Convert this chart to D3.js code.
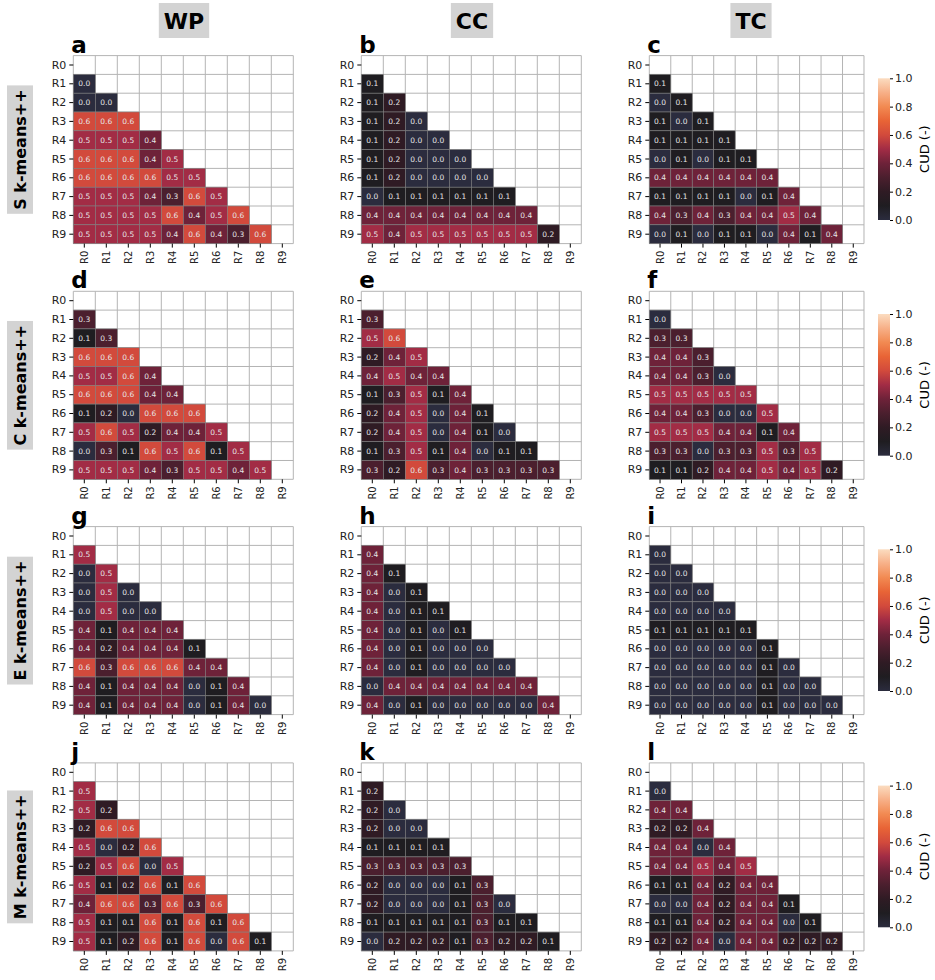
<!DOCTYPE html>
<html>
<head>
<meta charset="utf-8">
<script src="https://cdn.jsdelivr.net/npm/d3@7"></script>
<style>
  body { margin: 0; background: #fff; }
  svg { font-family: "DejaVu Sans", sans-serif; }
</style>
</head>
<body>
<div class="chart-area"></div>
<script>
// column (metric) and row (algorithm) names, tick labels
const colNames = ["WP", "CC", "TC"];
const rowNames = ["S k-means++", "C k-means++", "E k-means++", "M k-means++"];
const regions = ["R0", "R1", "R2", "R3", "R4", "R5", "R6", "R7", "R8", "R9"];
const letters = ["a", "b", "c", "d", "e", "f", "g", "h", "i", "j", "k", "l"];
const cbarTicks = [0, 0.2, 0.4, 0.6, 0.8, 1.0];

// lower triangles, row Ri holds values for R0..R(i-1)
const sWP = [[], [0.0], [0.0, 0.0], [0.6, 0.6, 0.6], [0.5, 0.5, 0.5, 0.4], [0.6, 0.6, 0.6, 0.4, 0.5],
  [0.6, 0.6, 0.6, 0.6, 0.5, 0.5], [0.5, 0.5, 0.5, 0.4, 0.3, 0.6, 0.5], [0.5, 0.5, 0.5, 0.5, 0.6, 0.4, 0.5, 0.6],
  [0.5, 0.5, 0.5, 0.5, 0.4, 0.6, 0.4, 0.3, 0.6]];
const sCC = [[], [0.1], [0.1, 0.2], [0.1, 0.2, 0.0], [0.1, 0.2, 0.0, 0.0], [0.1, 0.2, 0.0, 0.0, 0.0],
  [0.1, 0.2, 0.0, 0.0, 0.0, 0.0], [0.0, 0.1, 0.1, 0.1, 0.1, 0.1, 0.1], [0.4, 0.4, 0.4, 0.4, 0.4, 0.4, 0.4, 0.4],
  [0.5, 0.4, 0.5, 0.5, 0.5, 0.5, 0.5, 0.5, 0.2]];
const sTC = [[], [0.1], [0.0, 0.1], [0.1, 0.0, 0.1], [0.1, 0.1, 0.1, 0.1], [0.0, 0.1, 0.0, 0.1, 0.1],
  [0.4, 0.4, 0.4, 0.4, 0.4, 0.4], [0.1, 0.1, 0.1, 0.1, 0.0, 0.1, 0.4], [0.4, 0.3, 0.4, 0.3, 0.4, 0.4, 0.5, 0.4],
  [0.0, 0.1, 0.0, 0.1, 0.1, 0.0, 0.4, 0.1, 0.4]];
const cWP = [[], [0.3], [0.1, 0.3], [0.6, 0.6, 0.6], [0.5, 0.5, 0.6, 0.4], [0.6, 0.6, 0.6, 0.4, 0.4],
  [0.1, 0.2, 0.0, 0.6, 0.6, 0.6], [0.5, 0.6, 0.5, 0.2, 0.4, 0.4, 0.5], [0.0, 0.3, 0.1, 0.6, 0.5, 0.6, 0.1, 0.5],
  [0.5, 0.5, 0.5, 0.4, 0.3, 0.5, 0.5, 0.4, 0.5]];
const cCC = [[], [0.3], [0.5, 0.6], [0.2, 0.4, 0.5], [0.4, 0.5, 0.4, 0.4], [0.1, 0.3, 0.5, 0.1, 0.4],
  [0.2, 0.4, 0.5, 0.0, 0.4, 0.1], [0.2, 0.4, 0.5, 0.0, 0.4, 0.1, 0.0], [0.1, 0.3, 0.5, 0.1, 0.4, 0.0, 0.1, 0.1],
  [0.3, 0.2, 0.6, 0.3, 0.4, 0.3, 0.3, 0.3, 0.3]];
const cTC = [[], [0.0], [0.3, 0.3], [0.4, 0.4, 0.3], [0.4, 0.4, 0.3, 0.0], [0.5, 0.5, 0.5, 0.5, 0.5],
  [0.4, 0.4, 0.3, 0.0, 0.0, 0.5], [0.5, 0.5, 0.5, 0.4, 0.4, 0.1, 0.4], [0.3, 0.3, 0.0, 0.3, 0.3, 0.5, 0.3, 0.5],
  [0.1, 0.1, 0.2, 0.4, 0.4, 0.5, 0.4, 0.5, 0.2]];
const eWP = [[], [0.5], [0.0, 0.5], [0.0, 0.5, 0.0], [0.0, 0.5, 0.0, 0.0], [0.4, 0.1, 0.4, 0.4, 0.4],
  [0.4, 0.2, 0.4, 0.4, 0.4, 0.1], [0.6, 0.3, 0.6, 0.6, 0.6, 0.4, 0.4], [0.4, 0.1, 0.4, 0.4, 0.4, 0.0, 0.1, 0.4],
  [0.4, 0.1, 0.4, 0.4, 0.4, 0.0, 0.1, 0.4, 0.0]];
const eCC = [[], [0.4], [0.4, 0.1], [0.4, 0.0, 0.1], [0.4, 0.0, 0.1, 0.1], [0.4, 0.0, 0.1, 0.0, 0.1],
  [0.4, 0.0, 0.1, 0.0, 0.0, 0.0], [0.4, 0.0, 0.1, 0.0, 0.0, 0.0, 0.0], [0.0, 0.4, 0.4, 0.4, 0.4, 0.4, 0.4, 0.4],
  [0.4, 0.0, 0.1, 0.0, 0.0, 0.0, 0.0, 0.0, 0.4]];
const eTC = [[], [0.0], [0.0, 0.0], [0.0, 0.0, 0.0], [0.0, 0.0, 0.0, 0.0], [0.1, 0.1, 0.1, 0.1, 0.1],
  [0.0, 0.0, 0.0, 0.0, 0.0, 0.1], [0.0, 0.0, 0.0, 0.0, 0.0, 0.1, 0.0], [0.0, 0.0, 0.0, 0.0, 0.0, 0.1, 0.0, 0.0],
  [0.0, 0.0, 0.0, 0.0, 0.0, 0.1, 0.0, 0.0, 0.0]];
const mWP = [[], [0.5], [0.5, 0.2], [0.2, 0.6, 0.6], [0.5, 0.0, 0.2, 0.6], [0.2, 0.5, 0.6, 0.0, 0.5],
  [0.5, 0.1, 0.2, 0.6, 0.1, 0.6], [0.4, 0.6, 0.6, 0.3, 0.6, 0.3, 0.6], [0.5, 0.1, 0.1, 0.6, 0.1, 0.6, 0.1, 0.6],
  [0.5, 0.1, 0.2, 0.6, 0.1, 0.6, 0.0, 0.6, 0.1]];
const mCC = [[], [0.2], [0.2, 0.0], [0.2, 0.0, 0.0], [0.1, 0.1, 0.1, 0.1], [0.3, 0.3, 0.3, 0.3, 0.3],
  [0.2, 0.0, 0.0, 0.0, 0.1, 0.3], [0.2, 0.0, 0.0, 0.0, 0.1, 0.3, 0.0], [0.1, 0.1, 0.1, 0.1, 0.1, 0.3, 0.1, 0.1],
  [0.0, 0.2, 0.2, 0.2, 0.1, 0.3, 0.2, 0.2, 0.1]];
const mTC = [[], [0.0], [0.4, 0.4], [0.2, 0.2, 0.4], [0.4, 0.4, 0.0, 0.4], [0.4, 0.4, 0.5, 0.4, 0.5],
  [0.1, 0.1, 0.4, 0.2, 0.4, 0.4], [0.0, 0.0, 0.4, 0.2, 0.4, 0.4, 0.1], [0.1, 0.1, 0.4, 0.2, 0.4, 0.4, 0.0, 0.1],
  [0.2, 0.2, 0.4, 0.0, 0.4, 0.4, 0.2, 0.2, 0.2]];

const matrices = [sWP, sCC, sTC, cWP, cCC, cTC, eWP, eCC, eTC, mWP, mCC, mTC];

// rocket-like colormap
const cmapStops = [0, 0.1, 0.2, 0.3, 0.4, 0.5, 0.6, 0.7, 0.8, 0.9, 1.0];
const cmapColors = ["#2b2c3e", "#1f1d21", "#2f1b24", "#4b1f2e", "#6e2239", "#a22c45",
  "#d24a3c", "#e86436", "#f28a52", "#f7b088", "#fbdcc0"];
const color = d3.scaleLinear().domain(cmapStops).range(cmapColors).interpolate(d3.interpolateRgb);

let outerWidth = 935, outerHeight = 980;
let svg = d3.select(".chart-area").append("svg")
  .attr("width", outerWidth)
  .attr("height", outerHeight);

let lefts = [73.3, 361.3, 649.3], widths = [220, 220, 214.7];
let tops = [55.6, 291.3, 526.6, 762.9], panelH = 188;

let defs = svg.append("defs");
let grad = defs.append("linearGradient").attr("id", "cbar")
  .attr("x1", 0).attr("y1", 1).attr("x2", 0).attr("y2", 0);
cmapStops.forEach((s, i) => grad.append("stop").attr("offset", s).attr("stop-color", cmapColors[i]));

// column titles
let titleX = [184, 472, 751];
colNames.forEach((name, i) => {
  let t = svg.append("text")
    .attr("x", titleX[i]).attr("y", 29)
    .attr("text-anchor", "middle")
    .attr("font-size", 22).attr("font-weight", "bold")
    .text(name);
  let bb = t.node().getBBox();
  svg.insert("rect", "text")
    .attr("x", bb.x - 5).attr("y", 3)
    .attr("width", bb.width + 10).attr("height", 35)
    .attr("fill", "#d3d3d3");
});

// row titles
rowNames.forEach((name, i) => {
  let cy = tops[i] + panelH / 2;
  let g = svg.append("g").attr("transform", `translate(20,${cy}) rotate(-90)`);
  let t = g.append("text")
    .attr("x", 0).attr("y", 6)
    .attr("text-anchor", "middle")
    .attr("font-size", 16).attr("font-weight", "bold")
    .text(name);
  let bb = t.node().getBBox();
  g.insert("rect", "text")
    .attr("x", bb.x - 4).attr("y", -13)
    .attr("width", bb.width + 8).attr("height", 26)
    .attr("fill", "#d3d3d3");
});

matrices.forEach((m, k) => {
  let r = Math.floor(k / 3), c = k % 3;
  let x0 = lefts[c], y0 = tops[r], w = widths[c];
  let g = svg.append("g").attr("transform", `translate(${x0},${y0})`);

  let xScale = d3.scaleBand().domain(regions).range([0, w]);
  let yScale = d3.scaleBand().domain(regions).range([0, panelH]);

  // grid over the whole matrix
  let edges = d3.range(11);
  g.selectAll(".vgrid").data(edges).enter().append("line")
    .attr("x1", i => i * xScale.step()).attr("x2", i => i * xScale.step())
    .attr("y1", 0).attr("y2", panelH)
    .attr("stroke", "#b4b4b4").attr("stroke-width", 1);
  g.selectAll(".hgrid").data(edges).enter().append("line")
    .attr("y1", i => i * yScale.step()).attr("y2", i => i * yScale.step())
    .attr("x1", 0).attr("x2", w)
    .attr("stroke", "#b4b4b4").attr("stroke-width", 1);

  let cells = [];
  m.forEach((row, i) => row.forEach((v, j) => cells.push({ row: regions[i], col: regions[j], v: v })));

  g.selectAll("rect.cell").data(cells).enter().append("rect")
    .attr("class", "cell")
    .attr("x", d => xScale(d.col))
    .attr("y", d => yScale(d.row))
    .attr("width", xScale.bandwidth())
    .attr("height", yScale.bandwidth())
    .attr("fill", d => color(d.v))
    .attr("stroke", "#808080")
    .attr("stroke-width", 0.6);

  g.selectAll("text.val").data(cells).enter().append("text")
    .attr("class", "val")
    .attr("x", d => xScale(d.col) + xScale.bandwidth() / 2)
    .attr("y", d => yScale(d.row) + yScale.bandwidth() / 2)
    .attr("dy", "0.35em")
    .attr("text-anchor", "middle")
    .attr("font-size", 7.5)
    .attr("fill", "#e6e6e6")
    .text(d => d3.format(".1f")(d.v));

  let yAxis = g.append("g").call(d3.axisLeft(yScale).tickSize(4).tickPadding(3));
  yAxis.select(".domain").remove();
  yAxis.selectAll("text").attr("font-size", 11).attr("font-family", "DejaVu Sans").attr("fill", "#222");

  let xAxis = g.append("g").attr("transform", `translate(0,${panelH})`)
    .call(d3.axisBottom(xScale).tickSize(4).tickPadding(3));
  xAxis.select(".domain").remove();
  xAxis.selectAll("text")
    .attr("font-size", 10).attr("font-family", "DejaVu Sans").attr("fill", "#222")
    .attr("transform", "rotate(-90)")
    .attr("text-anchor", "end")
    .attr("x", -7).attr("y", 0).attr("dy", "0.35em");

  svg.append("text")
    .attr("x", x0 - 2).attr("y", y0 - 3)
    .attr("font-size", 23).attr("font-weight", "bold")
    .text(letters[k]);
});

// colorbars
tops.forEach(t => {
  let cy0 = t + 22.7, cy1 = t + 164.4;
  let cScale = d3.scaleLinear().domain([0, 1]).range([cy1, cy0]);
  svg.append("rect")
    .attr("x", 878).attr("y", cy0)
    .attr("width", 12).attr("height", cy1 - cy0)
    .attr("fill", "url(#cbar)");
  let ax = svg.append("g").attr("transform", "translate(890,0)")
    .call(d3.axisRight(cScale).tickValues(cbarTicks).tickFormat(d3.format(".1f")).tickSize(3).tickPadding(2));
  ax.select(".domain").remove();
  ax.selectAll("text").attr("font-size", 11).attr("font-family", "DejaVu Sans").attr("fill", "#222");
  svg.append("text")
    .attr("transform", `translate(929,${(cy0 + cy1) / 2}) rotate(-90)`)
    .attr("text-anchor", "middle")
    .attr("font-size", 13)
    .text("CUD (-)");
});
</script>
</body>
</html>
